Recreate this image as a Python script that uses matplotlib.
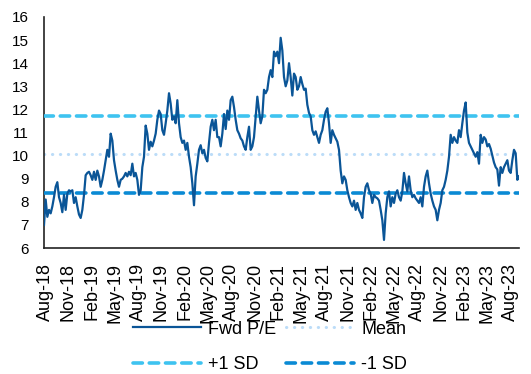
import matplotlib
matplotlib.use("Agg")
import matplotlib.pyplot as plt
import pandas as pd

# forward P/E, roughly weekly from end Jul-18 to early Sep-23
fwd_pe = [
    7.0, 8.1, 7.35, 7.65, 7.5, 7.8, 8.2, 8.65, 8.85, 8.2, 7.95, 7.55, 8.3, 7.65,
    8.35, 8.5, 8.45, 8.5, 7.95, 8.2, 7.8, 7.45, 7.3, 7.65, 8.3, 9.15, 9.25, 9.3,
    9.15, 8.95, 9.3, 8.95, 9.35, 9.1, 8.65, 8.95, 9.35, 9.8, 10.25, 9.95, 10.95,
    10.65, 9.8, 9.35, 8.95, 8.65, 8.95, 9.0, 9.1,
    9.25, 9.1, 9.3, 9.15, 9.65, 9.1, 9.25, 8.95, 8.3, 8.5, 9.5, 9.95, 11.3, 10.95,
    10.25, 10.6, 10.4, 10.65, 10.95, 11.55, 11.95, 11.8, 11.1, 10.9, 11.4, 11.95,
    12.7, 12.25, 11.55, 11.7, 11.4, 12.4, 11.4, 10.8, 10.55, 10.65, 10.25, 10.55,
    9.95, 9.5, 8.8, 7.85, 9.1, 9.65, 10.25, 10.45, 10.1, 10.25,
    9.9, 9.75, 10.55, 11.25, 11.55, 11.1, 11.55, 10.8, 10.8, 10.4, 10.95, 11.8,
    11.15, 11.95, 11.55, 12.4, 12.55, 12.1, 11.55, 11.1, 10.95, 10.75, 10.65, 10.4,
    10.25, 10.8, 11.25, 10.25, 10.4, 10.8, 11.7, 12.55, 11.95, 11.4, 11.7, 12.85,
    12.7, 12.85, 13.4, 13.7, 13.4, 14.5, 14.3, 14.5, 14.0, 15.1,
    14.55, 13.4, 13.0, 13.25, 14.0, 13.4, 12.6, 13.55, 13.4, 12.85, 13.0, 13.4,
    13.1, 12.85, 12.9, 12.2, 11.85, 11.7, 11.1, 10.9, 11.05, 10.8, 10.55, 10.9,
    11.1, 11.55, 11.9, 12.05, 11.4, 10.55, 11.1, 10.9, 10.75, 10.6, 10.25, 9.35,
    8.8, 9.1, 8.95, 8.5, 8.2, 7.95, 7.8, 8.05, 7.65, 7.95, 7.65, 7.5, 7.3, 8.2,
    8.65, 8.8, 8.5, 8.35, 7.95, 8.3, 8.2, 8.15, 8.05, 7.65, 7.2, 6.35, 7.5, 8.2,
    8.45, 7.8, 8.2, 7.95, 8.35, 8.5, 8.2, 8.05, 8.45, 9.25, 8.8, 8.45, 9.1, 8.5,
    8.2, 8.3, 8.15, 8.05, 7.95, 8.2, 7.8, 8.65, 9.1, 9.35, 8.8, 8.35, 8.05, 7.8,
    7.65, 7.2, 7.65, 7.95,
    8.5, 8.65, 8.95, 9.35, 9.95, 10.9, 10.55, 10.8, 10.65, 10.55, 11.1, 10.8,
    11.4, 11.95, 12.3, 11.0, 10.55, 10.4, 10.25, 10.1, 9.95, 10.15, 9.65, 10.9,
    10.55, 10.8, 10.7, 10.4, 10.5, 10.3, 10.0, 9.7, 9.5, 9.4, 8.7, 9.5, 9.25,
    9.5, 9.65, 9.8, 9.35, 9.25, 9.8, 10.25, 10.1, 8.95, 9.1,
]
mean_pe = 10.05
plus_sd = 11.7
minus_sd = 8.4

dates = pd.date_range("2018-07-28", "2023-09-05", periods=len(fwd_pe))
tick_dates = pd.date_range("2018-08-01", "2023-08-01", freq="3MS")
tick_labels = [d.strftime("%b-%y") for d in tick_dates]

plt.rcParams["font.family"] = ["Liberation Sans", "DejaVu Sans"]

fig = plt.figure(figsize=(5.31, 3.74), dpi=100)
ax = fig.add_axes([44 / 531, 1 - 248 / 374, 475 / 531, 231 / 374])

l_fwd, = ax.plot(dates, fwd_pe, color="#0A5597", lw=1.6, zorder=4)
l_mean, = ax.plot([dates[0], dates[-1]], [mean_pe, mean_pe], color="#BBDCF8", lw=2.2,
                  linestyle=(0, (0.1, 2.5)), dash_capstyle="round", zorder=2)
l_plus, = ax.plot([dates[0], dates[-1]], [plus_sd, plus_sd], color="#3EC3F0", lw=2.6,
                  linestyle=(0, (2.6, 1.9)), dash_capstyle="round", zorder=3)
l_minus, = ax.plot([dates[0], dates[-1]], [minus_sd, minus_sd], color="#0A8AD4", lw=2.6,
                   linestyle=(0, (2.6, 1.9)), dash_capstyle="round", zorder=3)

ax.set_xlim(dates[0], dates[-1])
ax.set_ylim(6, 16)
ax.set_yticks(range(6, 17))
ax.set_xticks(tick_dates)
ax.set_xticklabels(tick_labels, rotation=90)
ax.tick_params(axis="both", length=0)
ax.tick_params(axis="y", pad=11, labelsize=11)
ax.tick_params(axis="x", pad=11, labelsize=13)
for side in ["top", "right"]:
    ax.spines[side].set_visible(False)
for side in ["left", "bottom"]:
    ax.spines[side].set_linewidth(1.2)
    ax.spines[side].set_color("#222222")

# legend fills column by column: row 1 = Fwd P/E, Mean ; row 2 = +1 SD, -1 SD
ax.legend([l_fwd, l_plus, l_mean, l_minus], ["Fwd P/E", "+1 SD", "Mean", "-1 SD"],
          loc="upper center", bbox_to_anchor=(270 / 531, 1 - 311.5 / 374), bbox_transform=fig.transFigure,
          ncol=2, frameon=False, fontsize=13, handlelength=3.8, handletextpad=0.4,
          columnspacing=0.5, labelspacing=1.03, borderpad=0)

fig.savefig("out.png", dpi=100)
